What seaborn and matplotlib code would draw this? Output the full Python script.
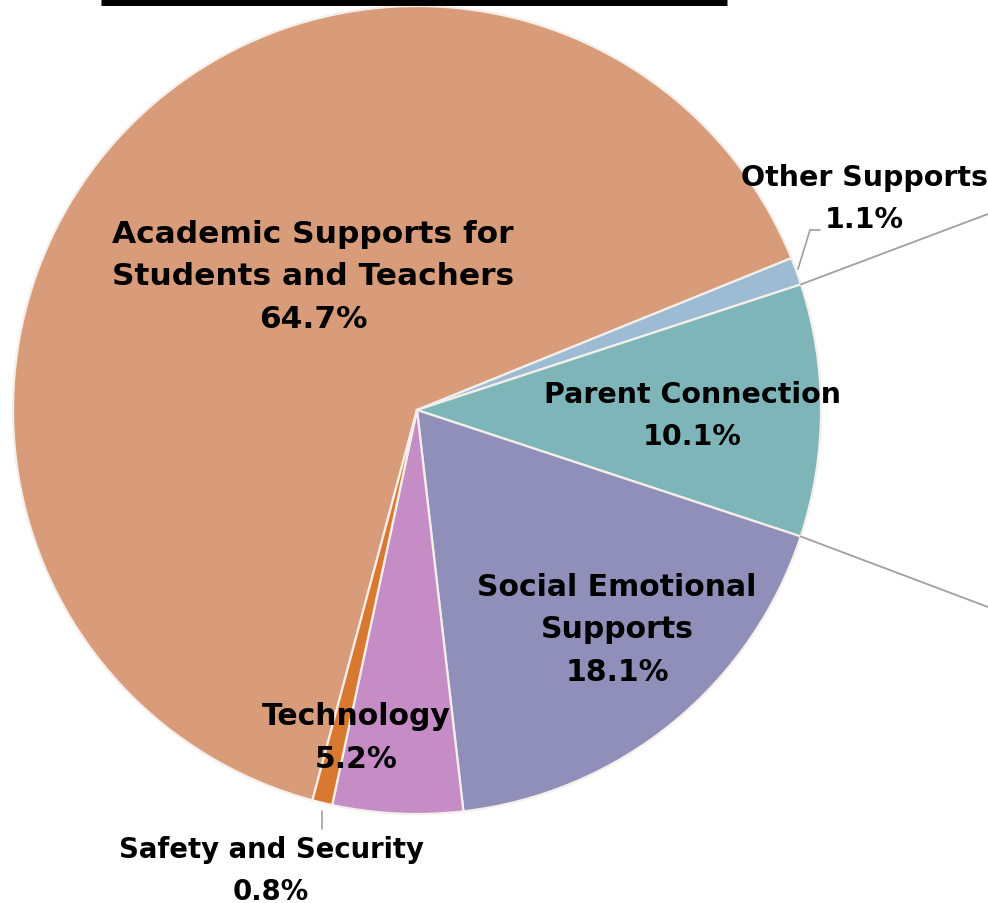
import matplotlib
matplotlib.use("Agg")
import matplotlib.pyplot as plt
import seaborn as sns
import numpy as np

sns.set_theme(style="white")
plt.rcParams['font.family'] = ['DejaVu Sans']

categories = ["Academic Supports for\nStudents and Teachers", "Other Supports",
              "Parent Connection", "Social Emotional\nSupports", "Technology",
              "Safety and Security"]
values = [64.7, 1.1, 10.1, 18.1, 5.2, 0.8]
colors = ["#D89C7A", "#9DBBD2", "#7DB5B9", "#8F8FB9", "#C58CC6", "#D9782F"]

W, H = 988, 904
R = 404.0
cx, cy = 417.0, 411.0

fig = plt.figure(figsize=(W / 100, H / 100), dpi=100)
ax = fig.add_axes([0, 0, 1, 1])

wedges, _ = ax.pie(values, colors=colors, startangle=255, counterclock=False,
                   radius=1.0, center=(0, 0), frame=True,
                   wedgeprops=dict(edgecolor="#F4EFEA", linewidth=1.6))
ax.set_xlim(-cx / R, (W - cx) / R)
ax.set_ylim(-(H - cy) / R, cy / R)
ax.set_aspect("equal")
ax.axis("off")

def px(x, y):
    return ((x - cx) / R, (cy - y) / R)

tkw = dict(ha="center", va="center", fontweight="bold",
           color="black", linespacing=1.6)

labels = [f"{c}\n{v:.1f}%" for c, v in zip(categories, values)]
label_pos = [(313, 277), (864, 199), (692, 416), (617, 630), (356, 738), (271, 871)]
sizes = [22.5, 20.5, 20.5, 21.5, 21.5, 19.8]
for lab, (x, y), s in zip(labels, label_pos, sizes):
    ax.text(*px(x, y), lab, fontsize=s, **tkw)

# leader lines for small slices
ax.plot(*zip(px(820, 231), px(810, 231), px(798, 270)), color="#A0A0A0", lw=1.2)
ax.plot(*zip(px(322, 812), px(322, 830)), color="#A0A0A0", lw=1.2)

# connector lines toward secondary chart (outside view)
for w, yend in [(wedges[1], 215), (wedges[3], 608)]:
    th = np.deg2rad(w.theta1 if w is wedges[1] else w.theta2)
    x0, y0 = np.cos(th), np.sin(th)
    ax.plot([x0, px(W, yend)[0]], [y0, px(W, yend)[1]], color="#A0A0A0", lw=1.3,
            clip_on=False)

# title underline (title itself is cropped)
ax.plot(*zip(px(101, 3), px(727, 3)), color="black", lw=5, solid_capstyle="butt",
        clip_on=False)

fig.savefig("out.png", dpi=100)
